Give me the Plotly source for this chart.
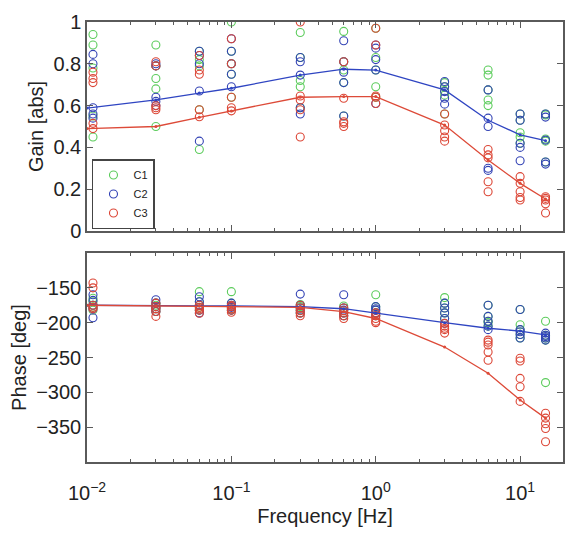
import plotly.graph_objects as go
from plotly.subplots import make_subplots

# Stimulus frequencies [Hz] at which each trial was measured
freq = [0.011, 0.03, 0.06, 0.1, 0.3, 0.6, 1, 3, 6, 10, 15]
# Frequencies at which the fitted model is evaluated
fit_freq = [0.01, 0.03, 0.06, 0.1, 0.3, 0.6, 1, 3, 6, 10, 15]

# Gain per trial, one list per frequency
gain_c1 = [
    [0.94, 0.89, 0.45, 0.78, 0.55],
    [0.89, 0.73, 0.68, 0.50, 0.79],
    [0.82, 0.39, 0.79, 0.86, 0.58],
    [1.00, 0.75, 0.64, 0.80, 0.86],
    [0.72, 0.69, 0.83, 0.95, 0.59],
    [0.955, 0.81, 0.77, 0.55, 0.71],
    [0.83, 0.69, 0.97, 0.77, 0.64],
    [0.71, 0.69, 0.67, 0.65, 0.56],
    [0.77, 0.746, 0.627, 0.60, 0.675],
    [0.47, 0.45, 0.56, 0.42, 0.53],
    [0.44, 0.43, 0.56, 0.33, 0.555],
]
gain_c2 = [
    [0.845, 0.80, 0.59, 0.56, 0.54],
    [0.79, 0.64, 0.62, 0.80, 0.60],
    [0.86, 0.84, 0.67, 0.43, 0.80],
    [0.92, 0.86, 0.80, 0.69, 0.75],
    [0.83, 0.81, 0.746, 0.59, 0.56],
    [0.91, 0.81, 0.71, 0.76, 0.55],
    [0.89, 0.875, 0.77, 0.61, 0.82],
    [0.715, 0.69, 0.667, 0.635, 0.607],
    [0.675, 0.54, 0.50, 0.30, 0.29],
    [0.56, 0.53, 0.42, 0.40, 0.336],
    [0.56, 0.545, 0.33, 0.32, 0.435],
]
gain_c3 = [
    [0.76, 0.73, 0.71, 0.515, 0.49],
    [0.81, 0.79, 0.60, 0.58, 0.59],
    [0.77, 0.75, 0.58, 0.547, 0.84],
    [0.59, 0.575, 0.92, 0.80, 0.64],
    [1.00, 0.646, 0.627, 0.58, 0.45],
    [0.635, 0.515, 0.50, 0.81, 0.523],
    [0.97, 0.646, 0.64, 0.61, 0.89],
    [0.56, 0.507, 0.48, 0.45, 0.43],
    [0.39, 0.364, 0.35, 0.236, 0.188],
    [0.26, 0.228, 0.188, 0.148, 0.16],
    [0.164, 0.148, 0.13, 0.086, 0.156],
]

# Phase per trial [deg]
phase_c1 = [
    [-170, -178, -175, -165, -182],
    [-172, -177, -180, -184, -175],
    [-155.5, -170, -175, -182, -178],
    [-155.5, -172, -177, -182, -180],
    [-174, -179, -182, -186, -177],
    [-176, -179, -183, -186, -190],
    [-160, -177, -182, -186, -190],
    [-164, -172, -179, -186, -194],
    [-175, -191, -198, -205, -200],
    [-181, -203, -210, -217, -222],
    [-198, -286, -218, -222, -225],
]
phase_c2 = [
    [-160, -168, -175, -193, -180],
    [-167, -172, -177, -184, -180],
    [-162.7, -170, -175, -182, -186],
    [-172, -177, -182, -178, -175],
    [-159, -175, -179, -186, -182],
    [-160, -179, -186, -190, -182],
    [-177, -182, -186, -180, -190],
    [-172, -179, -186, -194, -201],
    [-175, -191, -198, -205, -210],
    [-181, -210, -217, -222, -213],
    [-218, -225, -220, -222, -215],
]
phase_c3 = [
    [-143, -150, -175, -180, -178],
    [-172, -177, -184, -191, -180],
    [-175, -182, -186.5, -180, -178],
    [-177, -182, -180, -175, -185],
    [-175, -179, -186, -183, -190],
    [-179, -186, -194, -190, -183],
    [-194, -198, -190, -186, -200],
    [-201, -210, -215, -205, -208],
    [-225, -232, -242, -254, -228],
    [-251, -280, -292, -313, -255],
    [-330, -337, -352, -371, -345],
]

# Model fits for C2 and C3
gain_fit_c2 = [0.588, 0.627, 0.66, 0.683, 0.746, 0.774, 0.77, 0.675, 0.53, 0.46, 0.432]
gain_fit_c3 = [0.49, 0.50, 0.544, 0.574, 0.64, 0.643, 0.643, 0.507, 0.34, 0.228, 0.153]
phase_fit_c2 = [-175, -176, -176, -176, -177, -180, -186.5, -200, -208, -212, -217.6]
phase_fit_c3 = [-175, -176, -176, -177, -178, -184, -194, -235, -272.6, -311, -337]

names = ["C1", "C2", "C3"]
marker_colors = ["#5ccc5c", "#3343b5", "#dc4636"]
line_colors = {"C2": "#2f45c2", "C3": "#dd4a38"}
axis_grey = "#5a5a5a"
text_color = "#222222"
font_family = "Liberation Sans, Arial, sans-serif"


def flatten(groups):
    xs, ys = [], []
    for f, vals in zip(freq, groups):
        for v in vals:
            xs.append(f)
            ys.append(v)
    return xs, ys


fig = make_subplots(rows=2, cols=1, shared_xaxes=True, vertical_spacing=22 / 440)

gains = [gain_c1, gain_c2, gain_c3]
phases = [phase_c1, phase_c2, phase_c3]

for name, color, g, p in zip(names, marker_colors, gains, phases):
    gx, gy = flatten(g)
    fig.add_trace(go.Scatter(
        x=gx, y=gy, mode="markers", name=name, legendgroup=name,
        marker=dict(symbol="circle-open", size=8, color=color, line=dict(width=1.1)),
    ), row=1, col=1)
    px, py = flatten(p)
    fig.add_trace(go.Scatter(
        x=px, y=py, mode="markers", name=name, legendgroup=name, showlegend=False,
        marker=dict(symbol="circle-open", size=8, color=color, line=dict(width=1.1)),
    ), row=2, col=1)

for name, gfit, pfit in [("C2", gain_fit_c2, phase_fit_c2), ("C3", gain_fit_c3, phase_fit_c3)]:
    c = line_colors[name]
    fig.add_trace(go.Scatter(
        x=fit_freq, y=gfit, mode="lines+markers", showlegend=False,
        line=dict(color=c, width=1.3), marker=dict(size=3, color=c),
    ), row=1, col=1)
    fig.add_trace(go.Scatter(
        x=fit_freq, y=pfit, mode="lines+markers", showlegend=False,
        line=dict(color=c, width=1.3), marker=dict(size=3, color=c),
    ), row=2, col=1)

xaxis_common = dict(
    type="log", range=[-2, 1.297],
    showline=True, linecolor=axis_grey, linewidth=1.5, mirror="allticks",
    ticks="inside", ticklen=6, tickcolor=axis_grey, tickwidth=1,
    showgrid=False, zeroline=False,
    # one major tick per decade, labelled as powers of ten
    tickmode="linear", tick0=0, dtick=1,
    exponentformat="power", showexponent="all",
    labelalias={"1": "10<sup>0</sup>", "10": "10<sup>1</sup>"},
    minor=dict(ticks="inside", ticklen=3, tickcolor=axis_grey, tickwidth=1,
               dtick="D1", showgrid=False),
    tickfont=dict(size=16, color=text_color, family=font_family),
)
fig.update_xaxes(**xaxis_common)
fig.update_xaxes(showticklabels=False, row=1, col=1)
fig.update_xaxes(ticklabelstandoff=13,
                 title=dict(text="Frequency [Hz]", font=dict(size=20, color=text_color, family=font_family),
                            standoff=6),
                 row=2, col=1)

yaxis_common = dict(
    showline=True, linecolor=axis_grey, linewidth=1.5, mirror="allticks",
    ticks="inside", ticklen=6, tickcolor=axis_grey, tickwidth=1,
    showgrid=False, zeroline=False,
    tickfont=dict(size=20, color=text_color, family=font_family),
)
fig.update_yaxes(**yaxis_common)
fig.update_yaxes(range=[0, 1], tickvals=[0, 0.2, 0.4, 0.6, 0.8, 1],
                 ticktext=["0", "0.2", "0.4", "0.6", "0.8", "1"],
                 title=dict(text="Gain [abs]", font=dict(size=20, color=text_color, family=font_family),
                            standoff=4),
                 row=1, col=1)
fig.update_yaxes(range=[-400, -100], tickvals=[-150, -200, -250, -300, -350],
                 title=dict(text="Phase [deg]", font=dict(size=20, color=text_color, family=font_family),
                            standoff=4),
                 row=2, col=1)

fig.update_layout(
    width=565, height=542,
    margin=dict(l=87, r=0, t=22, b=80),
    paper_bgcolor="white", plot_bgcolor="white",
    font=dict(family=font_family, color=text_color),
    # legend sits in the lower-left corner of the gain panel
    legend=dict(
        x=(92 - 87) / 478, y=(462 - 229) / 440, xref="paper", yref="paper",
        xanchor="left", yanchor="bottom",
        bgcolor="white", bordercolor="#444444", borderwidth=1.5,
        font=dict(size=11, color=text_color, family=font_family),
        itemwidth=30, tracegroupgap=0,
    ),
)

fig.write_html("out.html")
